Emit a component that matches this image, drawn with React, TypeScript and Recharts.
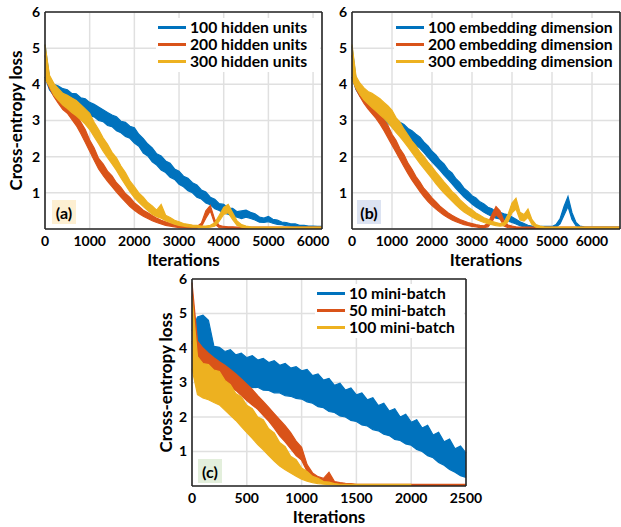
import React from 'react';
import { AreaChart, Area, XAxis, YAxis, CartesianGrid, Legend } from 'recharts';

const FONT = 'Lato, "Open Sans", "DejaVu Sans", sans-serif';
const COLORS = ['#0072BD', '#D95319', '#EDB120'];
const AXIS_COLOR = '#262626';

// ---------- names / tick labels ----------
const NAMES_A = ['100 hidden units', '200 hidden units', '300 hidden units'];
const NAMES_B = ['100 embedding dimension', '200 embedding dimension', '300 embedding dimension'];
const NAMES_C = ['10 mini-batch', '50 mini-batch', '100 mini-batch'];
const X_TICKS_AB = [0, 1000, 2000, 3000, 4000, 5000, 6000];
const X_TICKS_C = [0, 500, 1000, 1500, 2000, 2500];
const Y_TICKS = [1, 2, 3, 4, 5, 6];

// Each noisy loss curve is read as its noise band: lower and upper edge.
// ---------- panel (a): every 100 iterations, 0..6200 ----------
const STEP_A = 100;
const BLUE_A_LO = [4.2,3.85,3.68,3.57,3.43,3.41,3.34,3.31,3.22,3.21,3.13,3.1,3.0,2.97,2.86,2.83,2.72,2.66,2.56,2.51,2.38,2.29,2.1,2.02,1.86,1.77,1.63,1.56,1.43,1.37,1.24,1.17,1.06,1.0,0.88,0.83,0.72,0.67,0.56,0.51,0.44,0.41,0.35,0.33,0.29,0.33,0.29,0.25,0.19,0.18,0.2,0.16,0.13,0.12,0.09,0.08,0.07,0.05,0.05,0.04,0.04,0.03,0.03];
const BLUE_A_HI = [5.1,4.18,4.0,3.95,3.88,3.85,3.75,3.74,3.63,3.6,3.5,3.45,3.37,3.3,3.22,3.15,3.1,2.98,2.95,2.84,2.8,2.62,2.5,2.35,2.24,2.08,2.02,1.88,1.82,1.66,1.6,1.46,1.4,1.28,1.22,1.08,1.02,0.88,0.82,0.7,0.68,0.58,0.57,0.48,0.5,0.52,0.46,0.42,0.33,0.3,0.35,0.27,0.25,0.19,0.18,0.14,0.14,0.1,0.1,0.08,0.08,0.07,0.07];
const RED_A_LO = [4.2,3.9,3.66,3.47,3.3,3.2,3.03,2.86,2.64,2.4,2.15,1.9,1.66,1.48,1.32,1.17,1.02,0.88,0.75,0.62,0.52,0.43,0.35,0.29,0.23,0.18,0.14,0.1,0.08,0.06,0.04,0.04,0.03,0.03,0.03,0.06,0.3,0.5,0.14,0.04,0.03,0.02,0.02,0.02,0.02,0.02,0.02,0.02,0.02,0.02,0.02,0.02,0.02,0.02,0.02,0.02,0.02,0.02,0.02,0.02,0.02,0.02,0.02];
const RED_A_HI = [4.8,4.2,3.95,3.78,3.62,3.5,3.33,3.18,2.96,2.75,2.46,2.24,1.95,1.8,1.6,1.47,1.28,1.15,0.98,0.87,0.73,0.63,0.52,0.45,0.37,0.3,0.24,0.2,0.16,0.12,0.1,0.08,0.07,0.07,0.07,0.16,0.5,0.65,0.26,0.1,0.07,0.06,0.06,0.05,0.05,0.05,0.05,0.05,0.05,0.05,0.05,0.05,0.05,0.05,0.05,0.05,0.05,0.05,0.05,0.05,0.05,0.05,0.05];
const YELLOW_A_LO = [4.15,3.95,3.7,3.56,3.43,3.33,3.22,3.13,3.02,2.9,2.75,2.55,2.36,2.15,1.97,1.8,1.62,1.41,1.22,1.03,0.87,0.74,0.62,0.51,0.41,0.34,0.3,0.23,0.18,0.13,0.1,0.08,0.06,0.05,0.05,0.04,0.04,0.05,0.08,0.22,0.4,0.45,0.26,0.1,0.05,0.03,0.02,0.02,0.02,0.02,0.02,0.02,0.02,0.02,0.02,0.02,0.02,0.02,0.02,0.02,0.02,0.02,0.02];
const YELLOW_A_HI = [5.1,4.25,4.02,3.88,3.75,3.7,3.62,3.55,3.44,3.32,3.2,2.95,2.75,2.52,2.34,2.12,1.97,1.74,1.56,1.33,1.17,1.0,0.88,0.73,0.64,0.52,0.68,0.38,0.32,0.24,0.2,0.15,0.13,0.11,0.1,0.08,0.08,0.1,0.17,0.38,0.6,0.68,0.45,0.22,0.12,0.08,0.06,0.05,0.05,0.05,0.05,0.05,0.05,0.05,0.05,0.05,0.05,0.05,0.05,0.05,0.05,0.05,0.05];

// ---------- panel (b): every 100 iterations, 0..6700 ----------
const STEP_B = 100;
const BLUE_B_LO = [4.2,3.86,3.67,3.53,3.42,3.32,3.22,3.12,3.02,2.92,2.83,2.75,2.67,2.59,2.5,2.41,2.32,2.23,2.11,1.98,1.86,1.74,1.62,1.49,1.37,1.25,1.12,1.0,0.88,0.79,0.69,0.61,0.54,0.46,0.4,0.35,0.3,0.28,0.25,0.22,0.18,0.14,0.09,0.06,0.04,0.04,0.03,0.03,0.03,0.03,0.03,0.05,0.14,0.38,0.62,0.26,0.09,0.04,0.02,0.02,0.02,0.02,0.02,0.02,0.02,0.02,0.02,0.02];
const BLUE_B_HI = [5.05,4.15,3.95,3.82,3.72,3.62,3.52,3.44,3.33,3.24,3.12,3.05,2.95,2.89,2.78,2.72,2.62,2.54,2.4,2.3,2.15,2.05,1.9,1.8,1.64,1.55,1.39,1.28,1.13,1.04,0.92,0.86,0.75,0.69,0.6,0.56,0.47,0.46,0.42,0.39,0.33,0.27,0.2,0.15,0.1,0.08,0.07,0.07,0.07,0.07,0.07,0.12,0.28,0.62,0.9,0.45,0.18,0.08,0.06,0.05,0.05,0.05,0.05,0.05,0.05,0.05,0.05,0.05];
const RED_B_LO = [4.2,3.87,3.66,3.47,3.32,3.19,3.06,2.9,2.72,2.52,2.32,2.12,1.92,1.72,1.53,1.35,1.19,1.03,0.89,0.76,0.65,0.55,0.46,0.38,0.31,0.25,0.2,0.16,0.12,0.1,0.07,0.06,0.04,0.04,0.06,0.2,0.4,0.28,0.08,0.04,0.03,0.02,0.02,0.02,0.02,0.02,0.02,0.02,0.02,0.02,0.02,0.02,0.02,0.02,0.02,0.02,0.02,0.02,0.02,0.02,0.02,0.02,0.02,0.02,0.02,0.02,0.02,0.02];
const RED_B_HI = [4.8,4.15,3.94,3.76,3.6,3.49,3.34,3.23,3.02,2.86,2.62,2.45,2.22,2.05,1.82,1.65,1.45,1.3,1.12,1.0,0.86,0.75,0.63,0.54,0.45,0.38,0.32,0.26,0.22,0.18,0.15,0.12,0.1,0.09,0.16,0.4,0.62,0.5,0.22,0.11,0.08,0.06,0.05,0.05,0.05,0.05,0.05,0.05,0.05,0.05,0.05,0.05,0.05,0.05,0.05,0.05,0.05,0.05,0.05,0.05,0.05,0.05,0.05,0.05,0.05,0.05,0.05,0.05];
const YELLOW_B_LO = [4.15,3.9,3.72,3.57,3.46,3.36,3.26,3.16,3.06,2.94,2.81,2.67,2.55,2.41,2.26,2.11,1.96,1.81,1.67,1.53,1.39,1.25,1.12,0.99,0.88,0.77,0.66,0.56,0.47,0.4,0.33,0.27,0.22,0.18,0.15,0.12,0.09,0.08,0.09,0.2,0.45,0.55,0.25,0.22,0.32,0.12,0.05,0.03,0.02,0.02,0.02,0.02,0.02,0.02,0.02,0.02,0.02,0.02,0.02,0.02,0.02,0.02,0.02,0.02,0.02,0.02,0.02,0.02];
const YELLOW_B_HI = [5.1,4.22,4.03,3.9,3.8,3.75,3.68,3.6,3.5,3.4,3.28,3.08,2.95,2.76,2.6,2.43,2.3,2.13,2.0,1.85,1.72,1.57,1.44,1.3,1.18,1.04,0.94,0.81,0.71,0.61,0.53,0.44,0.38,0.31,0.27,0.21,0.18,0.15,0.18,0.4,0.72,0.85,0.46,0.4,0.55,0.26,0.12,0.08,0.06,0.05,0.05,0.05,0.05,0.05,0.05,0.05,0.05,0.05,0.05,0.05,0.05,0.05,0.05,0.05,0.05,0.05,0.05,0.05];

// ---------- panel (c): every 50 iterations, 0..2500 (100 mini-batch stops at 2000) ----------
const STEP_C = 50;
const BLUE_C_LO = [4.15,3.85,3.6,3.5,3.3,3.15,3.1,3.02,2.98,2.9,2.92,2.85,2.86,2.78,2.77,2.7,2.7,2.62,2.6,2.54,2.52,2.44,2.4,2.3,2.27,2.16,2.13,2.03,2.0,1.9,1.87,1.77,1.74,1.63,1.6,1.5,1.46,1.35,1.32,1.22,1.18,1.06,1.0,0.88,0.82,0.68,0.6,0.48,0.4,0.3,0.25];
const BLUE_C_HI = [4.5,4.9,4.95,4.8,4.05,4.02,3.9,3.95,3.8,3.85,3.72,3.78,3.65,3.7,3.58,3.63,3.5,3.55,3.42,3.46,3.34,3.38,3.2,3.25,3.07,3.12,2.92,2.98,2.78,2.84,2.64,2.7,2.5,2.56,2.33,2.4,2.17,2.24,2.0,2.08,1.85,1.92,1.68,1.76,1.48,1.56,1.28,1.36,1.08,1.16,0.95];
const RED_C_LO = [4.2,3.75,3.55,3.42,3.28,3.14,3.02,2.9,2.77,2.62,2.48,2.35,2.22,2.05,1.88,1.68,1.45,1.28,1.08,0.88,0.75,0.42,0.25,0.17,0.12,0.09,0.07,0.05,0.04,0.03,0.02,0.02,0.02,0.02,0.02,0.02,0.02,0.02,0.02,0.02,0.02,0.02,0.02,0.02,0.02,0.02,0.02,0.02,0.02,0.02,0.02];
const RED_C_HI = [5.9,4.2,4.0,3.85,3.72,3.6,3.5,3.38,3.25,3.1,2.95,2.8,2.62,2.45,2.28,2.1,1.92,1.75,1.55,1.3,1.12,0.62,0.38,0.27,0.22,0.4,0.13,0.1,0.08,0.07,0.05,0.05,0.05,0.05,0.05,0.05,0.05,0.05,0.05,0.05,0.05,0.05,0.05,0.05,0.05,0.05,0.05,0.05,0.05,0.05,0.05];
const YELLOW_C_LO = [3.4,2.65,2.55,2.5,2.42,2.35,2.2,2.05,1.9,1.72,1.55,1.38,1.2,1.05,0.88,0.72,0.58,0.47,0.38,0.28,0.2,0.14,0.1,0.07,0.05,0.04,0.03,0.02,0.02,0.02,0.02,0.02,0.02,0.02,0.02,0.02,0.02,0.02,0.02,0.02,0.02];
const YELLOW_C_HI = [5.5,3.75,3.55,3.52,3.36,3.32,3.06,2.94,2.68,2.58,2.34,2.24,2.0,1.92,1.66,1.54,1.26,1.14,0.86,0.76,0.52,0.42,0.28,0.22,0.13,0.11,0.07,0.05,0.05,0.05,0.05,0.05,0.05,0.05,0.05,0.05,0.05,0.05,0.05,0.05,0.05];

type Band = [number, number] | undefined;
type Row = { it: number; s1: Band; s2: Band; s3: Band };

function band(lo: number[], hi: number[], i: number): Band {
  return i < lo.length && i < hi.length ? [lo[i], hi[i]] : undefined;
}

function buildRows(step: number, series: [number[], number[]][]): Row[] {
  const n = Math.max(...series.map((s) => s[0].length));
  const rows: Row[] = [];
  for (let i = 0; i < n; i++) {
    rows.push({
      it: i * step,
      s1: band(series[0][0], series[0][1], i),
      s2: band(series[1][0], series[1][1], i),
      s3: band(series[2][0], series[2][1], i),
    });
  }
  return rows;
}

const DATA_A = buildRows(STEP_A, [[BLUE_A_LO, BLUE_A_HI], [RED_A_LO, RED_A_HI], [YELLOW_A_LO, YELLOW_A_HI]]);
const DATA_B = buildRows(STEP_B, [[BLUE_B_LO, BLUE_B_HI], [RED_B_LO, RED_B_HI], [YELLOW_B_LO, YELLOW_B_HI]]);
const DATA_C = buildRows(STEP_C, [[BLUE_C_LO, BLUE_C_HI], [RED_C_LO, RED_C_HI], [YELLOW_C_LO, YELLOW_C_HI]]);

const TICK_STYLE = { fill: '#000', fontSize: 14, fontWeight: 700, fontFamily: FONT };
const LABEL_STYLE = { fill: '#000', fontSize: 17, fontWeight: 700, fontFamily: FONT };

function LegendBox({ names, width }: { names: string[]; width: number }) {
  return (
    <div
      style={{
        background: '#fff',
        width,
        padding: '1px 0 2px 2px',
        boxSizing: 'border-box',
        fontFamily: FONT,
        fontWeight: 700,
        fontSize: 15.7,
        lineHeight: '17px',
        color: '#000',
      }}
    >
      {names.map((name, i) => (
        <div key={name} style={{ display: 'flex', alignItems: 'center', whiteSpace: 'nowrap' }}>
          <span style={{ display: 'inline-block', width: 28, height: 2.2, background: COLORS[i], marginRight: 4 }} />
          <span>{name}</span>
        </div>
      ))}
    </div>
  );
}

type PanelProps = {
  left: number;
  top: number;
  width: number;
  height: number;
  margin: { top: number; right: number; bottom: number; left: number };
  yAxisWidth: number;
  data: Row[];
  xMax: number;
  xTicks: number[];
  names: string[];
  yLabel: boolean;
  legend: { left: number; top: number; width: number };
};

function Panel(p: PanelProps) {
  const keys = ['s1', 's2', 's3'];
  return (
    <div style={{ position: 'absolute', left: p.left, top: p.top }}>
      <AreaChart width={p.width} height={p.height} data={p.data} margin={p.margin}>
        <CartesianGrid stroke="#e0e0e0" strokeWidth={1.5} />
        <XAxis
          dataKey="it"
          type="number"
          domain={[0, p.xMax]}
          ticks={p.xTicks}
          interval={0}
          height={40}
          tickSize={0}
          tickMargin={7}
          tickLine={false}
          axisLine={{ stroke: AXIS_COLOR, strokeWidth: 1.6 }}
          tick={TICK_STYLE}
          label={{ value: 'Iterations', position: 'insideBottom', offset: 3, style: LABEL_STYLE }}
        />
        <XAxis
          xAxisId="top"
          orientation="top"
          type="number"
          domain={[0, p.xMax]}
          ticks={p.xTicks}
          interval={0}
          height={1}
          mirror
          tickSize={4}
          tick={false}
          tickLine={{ stroke: AXIS_COLOR, strokeWidth: 1.4 }}
          axisLine={{ stroke: AXIS_COLOR, strokeWidth: 1.6 }}
        />
        <YAxis
          type="number"
          domain={[0, 6]}
          ticks={Y_TICKS}
          interval={0}
          width={p.yAxisWidth}
          tickSize={0}
          tickMargin={5}
          tickLine={false}
          axisLine={{ stroke: AXIS_COLOR, strokeWidth: 1.6 }}
          tick={TICK_STYLE}
          label={
            p.yLabel
              ? {
                  value: 'Cross-entropy loss',
                  angle: -90,
                  position: 'insideLeft',
                  offset: 16,
                  style: { ...LABEL_STYLE, textAnchor: 'middle' },
                }
              : undefined
          }
        />
        <YAxis
          yAxisId="right"
          orientation="right"
          type="number"
          domain={[0, 6]}
          ticks={Y_TICKS}
          interval={0}
          width={1}
          mirror
          tickSize={4}
          tick={false}
          tickLine={{ stroke: AXIS_COLOR, strokeWidth: 1.4 }}
          axisLine={{ stroke: AXIS_COLOR, strokeWidth: 1.6 }}
        />
        {keys.map((k, i) => (
          <Area
            key={k}
            dataKey={k}
            name={p.names[i]}
            type="linear"
            stroke={COLORS[i]}
            strokeWidth={1.2}
            fill={COLORS[i]}
            fillOpacity={1}
            dot={false}
            activeDot={false}
            isAnimationActive={false}
          />
        ))}
        <Legend
          layout="horizontal"
          verticalAlign="middle"
          align="center"
          wrapperStyle={{ top: p.legend.top, left: p.legend.left, width: p.legend.width, height: 'auto' }}
          content={() => <LegendBox names={p.names} width={p.legend.width} />}
        />
      </AreaChart>
    </div>
  );
}

function Tag({ text, left, top, bg }: { text: string; left: number; top: number; bg: string }) {
  return (
    <div
      style={{
        position: 'absolute',
        left,
        top,
        width: 24,
        height: 24,
        background: bg,
        fontFamily: FONT,
        fontWeight: 700,
        fontSize: 16,
        display: 'flex',
        alignItems: 'center',
        justifyContent: 'center',
        color: '#000',
      }}
    >
      {text}
    </div>
  );
}

export default function App() {
  return (
    <div style={{ position: 'absolute', left: 0, top: 0, width: 621, height: 527, background: '#fff', overflow: 'hidden' }}>
      <Panel
        left={0}
        top={0}
        width={330}
        height={270}
        margin={{ top: 12, right: 8, bottom: 1, left: 0 }}
        yAxisWidth={45}
        data={DATA_A}
        xMax={6200}
        xTicks={X_TICKS_AB}
        names={NAMES_A}
        yLabel
        legend={{ left: 156, top: 18, width: 164 }}
      />
      <Panel
        left={310}
        top={0}
        width={311}
        height={270}
        margin={{ top: 12, right: 1, bottom: 1, left: 0 }}
        yAxisWidth={42}
        data={DATA_B}
        xMax={6700}
        xTicks={X_TICKS_AB}
        names={NAMES_B}
        yLabel={false}
        legend={{ left: 84, top: 18, width: 225 }}
      />
      <Panel
        left={150}
        top={265}
        width={340}
        height={262}
        margin={{ top: 14, right: 24, bottom: 1, left: 0 }}
        yAxisWidth={42}
        data={DATA_C}
        xMax={2500}
        xTicks={X_TICKS_C}
        names={NAMES_C}
        yLabel
        legend={{ left: 165, top: 19, width: 149 }}
      />
      <Tag text="(a)" left={52} top={200} bg="#FDEFD2" />
      <Tag text="(b)" left={357} top={200} bg="#DCE3F2" />
      <Tag text="(c)" left={198} top={459} bg="#E3EFDC" />
    </div>
  );
}
